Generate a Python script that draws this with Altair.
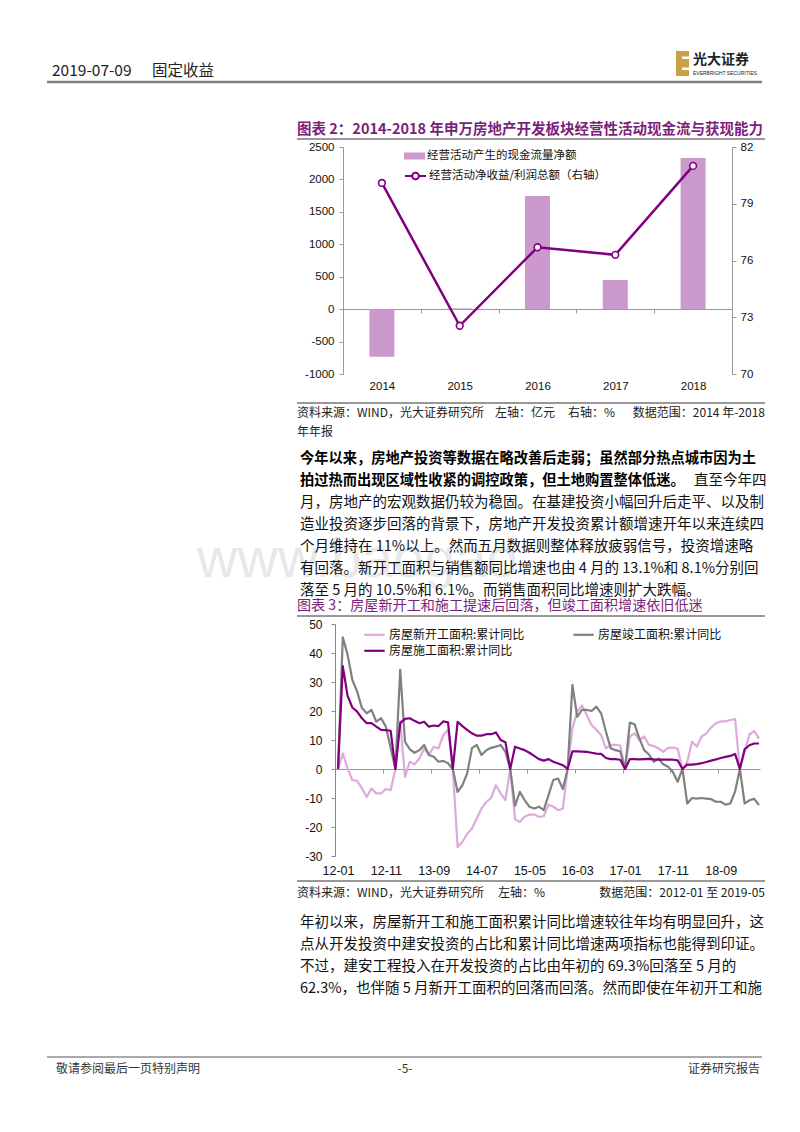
import altair as alt
import pandas as pd

# ---------------- 图表 2 数据 ----------------
years = ["2014", "2015", "2016", "2017", "2018"]
cash_flow = [-735, 12, 1745, 450, 2330]          # 亿元（左轴）
net_ratio = [80.1, 72.55, 76.7, 76.3, 81.0]      # %（右轴）
bar_name = "经营活动产生的现金流量净额"
line_name = "经营活动净收益/利润总额（右轴）"

# ---------------- 图表 3 数据（2012-01 至 2019-05，累计同比 %） ----------------
months = [f"{y % 100:02d}-{m:02d}" for y in range(2012, 2020) for m in range(1, 13)][:89]
s_new = "房屋新开工面积:累计同比"
s_done = "房屋竣工面积:累计同比"
s_cons = "房屋施工面积:累计同比"
new_start = [
    0, 5.4, 0.2, -3.8, -4.1, -6.7, -9.6, -6.7, -8.4, -8.4, -6.9, -7.3,
    0, 16.5, -2.7, 2.5, 1.6, 3.6, 7.1, 4.8, 7.7, 7.1, 11.7, 13.5,
    0, -26.9, -25.2, -22.3, -20.5, -17.1, -13.6, -11.3, -10.0, -5.6, -8.4, -10.7,
    0, -17.3, -18.3, -16.5, -15.7, -15.7, -16.5, -16.3, -12.3, -13.0, -14.2, -13.7,
    0, 14.0, 19.8, 21.9, 18.6, 15.2, 13.5, 11.7, 7.1, 8.3, 8.3, 8.1,
    0, 11.2, 12.3, 10.0, 11.2, 8.3, 7.9, 7.1, 5.9, 7.3, 7.4, 7.0,
    0, 2.5, 9.4, 7.7, 11.2, 12.3, 14.3, 15.8, 16.4, 16.4, 16.9, 17.2,
    0, 6.0, 11.9, 13.1, 10.5,
]
completed = [
    0, 45.4, 39.4, 30.7, 26.7, 21.0, 19.2, 20.4, 16.3, 17.5, 14.6, 7.3,
    0, 34.2, 9.4, 6.8, 5.6, 6.5, 8.3, 4.8, 4.2, 2.5, 2.8, 2.0,
    0, -7.9, -5.6, -1.5, 7.2, 8.3, 4.8, 6.5, 7.3, 7.7, 8.3, 5.9,
    0, -12.7, -7.9, -10.7, -13.0, -13.6, -13.0, -14.2, -9.0, -3.8, -3.3, -6.9,
    0, 29.0, 18.0, 20.4, 20.4, 20.0, 21.5, 19.2, 12.9, 7.2, 6.5, 6.1,
    0, 16.0, 15.4, 10.5, 6.5, 5.0, 2.5, 3.6, 1.6, 0.8, -1.0, -4.4,
    0, -11.9, -10.0, -10.2, -10.0, -10.2, -10.4, -11.3, -11.3, -12.3, -11.9, -7.8,
    0, -11.9, -10.8, -10.3, -12.4,
]
under_cons = [
    0, 35.5, 25.2, 21.2, 19.8, 17.5, 15.8, 15.8, 14.6, 13.5, 13.4, 13.2,
    0, 15.8, 17.3, 17.5, 16.6, 15.8, 16.3, 14.6, 15.0, 14.8, 16.4, 16.1,
    0, 16.3, 14.8, 13.5, 12.3, 11.5, 11.5, 12.0, 12.0, 12.6, 10.0, 9.2,
    0, 7.7, 7.1, 6.5, 5.6, 4.5, 3.4, 2.9, 3.4, 2.5, 1.9, 1.3,
    0, 6.1, 6.1, 6.0, 5.9, 5.6, 5.3, 5.2, 3.8, 3.4, 3.4, 3.2,
    0, 3.4, 3.4, 3.3, 3.4, 3.5, 3.3, 3.2, 3.2, 3.2, 3.2, 3.0,
    0, 1.5, 1.5, 1.7, 2.0, 2.4, 2.9, 3.3, 3.8, 4.2, 4.5, 5.2,
    0, 6.8, 8.2, 8.8, 8.8,
]

# ---------------- 页面文字 ----------------
header_date = "2019-07-09"
header_sec = "固定收益"
logo_cn = "光大证券"
logo_en = "EVERBRIGHT SECURITIES"
title2 = "图表 2：2014-2018 年申万房地产开发板块经营性活动现金流与获现能力"
src2 = ["资料来源：WIND，光大证券研究所", "左轴：亿元", "右轴：%", "数据范围：2014 年-2018", "年年报"]
para1_line1_bold = "今年以来，房地产投资等数据在略改善后走弱；虽然部分热点城市因为土"
para1_line2_bold = "拍过热而出现区域性收紧的调控政策，但土地购置整体低迷。"
para1_line2_rest = "直至今年四"
para1_rest = [
    "月，房地产的宏观数据仍较为稳固。在基建投资小幅回升后走平、以及制",
    "造业投资逐步回落的背景下，房地产开发投资累计额增速开年以来连续四",
    "个月维持在 11%以上。然而五月数据则整体释放疲弱信号，投资增速略",
    "有回落。新开工面积与销售额同比增速也由 4 月的 13.1%和 8.1%分别回",
    "落至 5 月的 10.5%和 6.1%。而销售面积同比增速则扩大跌幅。",
]
title3 = "图表 3：房屋新开工和施工提速后回落，但竣工面积增速依旧低迷"
src3 = ["资料来源：WIND，光大证券研究所", "左轴：%", "数据范围：2012-01 至 2019-05"]
para2 = [
    "年初以来，房屋新开工和施工面积累计同比增速较往年均有明显回升，这",
    "点从开发投资中建安投资的占比和累计同比增速两项指标也能得到印证。",
    "不过，建安工程投入在开发投资的占比由年初的 69.3%回落至 5 月的",
    "62.3%，也伴随 5 月新开工面积的回落而回落。然而即使在年初开工和施",
]
footer = ["敬请参阅最后一页特别声明", "-5-", "证券研究报告"]
watermark = "www.baogao"

# ---------------- styles ----------------
CJK = "Noto Sans CJK SC"
LAT = "Liberation Sans"
PURPLE = "#800080"
TITLE_C = "#7B1F7B"
BAR_C = "#CC99CC"
PINK = "#DDAADD"
GRAY = "#808080"
W = 784
PLAIN_NUM = "'' + datum.value"


def txt(s, x, y, size, color="#000", weight="normal", align="left", font=CJK):
    return alt.Chart(pd.DataFrame({"t": [s]})).mark_text(
        align=align, baseline="middle", font=font, fontSize=size,
        fontWeight=weight, color=color
    ).encode(text="t:N", x=alt.value(x), y=alt.value(y))


def hrule(x1, x2, y, color="#333", w=1.0):
    return alt.Chart(pd.DataFrame({"t": [0]})).mark_rule(
        color=color, strokeWidth=w
    ).encode(x=alt.value(x1), x2=alt.value(x2), y=alt.value(y))


def box(x1, x2, y1, y2, color):
    return alt.Chart(pd.DataFrame({"t": [0]})).mark_rect(color=color).encode(
        x=alt.value(x1), x2=alt.value(x2), y=alt.value(y1), y2=alt.value(y2))


# ---------------- Row A: header + title 2 (height 139) ----------------
rowA = alt.layer(
    txt(header_date, 44, 63, 15.5, "#222"),
    txt(header_sec, 144, 63, 15.5, "#222"),
    hrule(39, 754, 74, "#808080", 2.5),
    box(668, 681, 43, 68, "#C9A245"),
    box(674, 681, 48.5, 51, "#ffffff"),
    box(674, 681, 59.5, 62, "#ffffff"),
    txt(logo_cn, 685, 52, 14, "#222", "bold"),
    txt(logo_en, 685, 64.5, 5, "#222", font=LAT),
    txt(title2, 289, 122, 14.5, TITLE_C, "bold"),
    hrule(289, 757, 131, "#333", 1),
).properties(width=W, height=139)

# ---------------- Row B: chart 1, bars + line (plot x 335..724, height 227) ----------------
ROWB_TOP = 139
df1 = pd.DataFrame({"年份": years, "现金流": cash_flow, "比率": net_ratio,
                    "s1": [bar_name] * 5, "s2": [line_name] * 5})
x1 = alt.X("年份:N", sort=years,
           scale=alt.Scale(paddingInner=0, paddingOuter=0, range=[335, 724]),
           axis=alt.Axis(title=None, labelAngle=0, offset=-65, domainColor="#999",
                         tickColor="#999", tickBand="extent", tickSize=4, labelPadding=67,
                         labelFont=LAT, labelFontSize=11.5, labelColor="#111", grid=False))
bars = alt.Chart(df1).mark_bar(size=25).encode(
    x=x1,
    y=alt.Y("现金流:Q", scale=alt.Scale(domain=[-1000, 2500], nice=False),
            axis=alt.Axis(title=None, values=list(range(-1000, 2501, 500)), grid=False,
                          labelExpr=PLAIN_NUM, offset=-335, domainColor="#999",
                          tickColor="#999", tickSize=4, labelPadding=5, labelFont=LAT,
                          labelFontSize=11.5, labelColor="#111")),
    fill=alt.Fill("s1:N", scale=alt.Scale(domain=[bar_name], range=[BAR_C]),
                  legend=alt.Legend(title=None, orient="none", legendX=396,
                                    legendY=ROWB_TOP + 9 - 10.5,
                                    symbolType="M-1,-0.333H1V0.333H-1Z", symbolSize=441,
                                    symbolStrokeWidth=0, labelOffset=2, labelFont=CJK,
                                    labelFontSize=11.5, labelColor="#111", labelLimit=300,
                                    padding=0)),
)
line = alt.Chart(df1).mark_line(
    strokeWidth=2.5,
    point=alt.OverlayMarkDef(filled=True, fill="white", size=45, strokeWidth=1.6),
).encode(
    x=x1,
    y=alt.Y("比率:Q", scale=alt.Scale(domain=[70, 82], nice=False),
            axis=alt.Axis(title=None, orient="right", values=[70, 73, 76, 79, 82], grid=False,
                          labelExpr=PLAIN_NUM, domainColor="#999", tickColor="#999",
                          tickSize=4, labelPadding=4, labelFont=LAT, labelFontSize=11.5,
                          labelColor="#111")),
    stroke=alt.Stroke("s2:N", scale=alt.Scale(domain=[line_name], range=[PURPLE]),
                      legend=alt.Legend(title=None, orient="none", legendX=396,
                                        legendY=ROWB_TOP + 28 - 10.5,
                                        symbolType="M-1,0H-0.32M0.32,0H1M0.32,0A0.32,0.32,0,1,1,-0.32,0A0.32,0.32,0,1,1,0.32,0",
                                        symbolSize=441, symbolStrokeWidth=2,
                                        symbolFillColor="#ffffff", labelOffset=2,
                                        labelFont=CJK, labelFontSize=11.5, labelColor="#111",
                                        labelLimit=300, padding=0)),
)
rowB = alt.layer(bars, line).resolve_scale(y="independent").properties(width=724, height=227)

# ---------------- Row C: source, paragraph, title 3 (height 250) ----------------
P1 = 85
layersC = [
    txt(watermark, 189, 186, 56, "#e8e8e8", font=LAT),
    hrule(289, 757, 29, "#333", 1),
    txt(src2[0], 289, 39, 12, "#222"),
    txt(src2[1], 487, 39, 12, "#222"),
    txt(src2[2], 560, 39, 12, "#222"),
    txt(src2[3], 757, 39, 12, "#222", align="right"),
    txt(src2[4], 289, 58, 12, "#222"),
    txt(para1_line1_bold, 292, P1, 14.25, "#000", "bold"),
    txt(para1_line2_bold, 292, P1 + 22, 14.25, "#000", "bold"),
    txt(para1_line2_rest, 686, P1 + 22, 14.5, "#111"),
]
for k, s in enumerate(para1_rest):
    layersC.append(txt(s, 292, P1 + 44 + 22 * k, 14.5, "#111"))
layersC += [
    txt(title3, 289, 232, 14.1, TITLE_C),
    hrule(289, 757, 242, "#333", 1),
]
rowC = alt.layer(*layersC).properties(width=W, height=250)

# ---------------- Row D: chart 3, monthly lines (plot x 327..752, height 232) ----------------
ROWD_TOP = 139 + 227 + 250
n = len(months)
df2 = pd.DataFrame({
    "idx": list(range(n)) * 3,
    "月份": months * 3,
    "val": new_start + completed + under_cons,
    "系列": [s_new] * n + [s_done] * n + [s_cons] * n,
})
order = [s_new, s_done, s_cons]
legend_order = [s_new, s_cons, s_done]   # column-major fill -> row 1: 新开工, 竣工; row 2: 施工
xs2 = alt.Scale(domain=[-0.63, n - 1 + 0.21], nice=False, zero=False, range=[327, 752])
y2 = alt.Y("val:Q", scale=alt.Scale(domain=[-30, 50], nice=False),
           axis=alt.Axis(title=None, values=list(range(-30, 51, 10)), grid=False,
                         labelExpr=PLAIN_NUM, offset=-327, domainColor="#888",
                         tickColor="#888", tickSize=4, labelPadding=9, labelFont=LAT,
                         labelFontSize=12, labelColor="#111"))
tick_labels = [months[i] for i in range(0, n, 10)]
label_expr = "[" + ",".join(f"'{m}'" for m in tick_labels) + "][round(datum.value/10)]"
lines2 = alt.Chart(df2).mark_line(strokeJoin="round").encode(
    x=alt.X("idx:Q", scale=xs2,
            axis=alt.Axis(title=None, orient="bottom", offset=-87,
                          values=[9.5 + 10 * k for k in range(8)], labels=False,
                          domainColor="#999", tickColor="#999", tickSize=4, grid=False)),
    y=y2,
    color=alt.Color("系列:N", sort=order,
                    scale=alt.Scale(domain=order, range=[PINK, GRAY, PURPLE]),
                    legend=alt.Legend(title=None, orient="none", legendX=356.5,
                                      legendY=ROWD_TOP + 9.3 - 8.5, values=legend_order,
                                      columns=2, columnPadding=44, rowPadding=0,
                                      symbolType="M-1.2,0H1.2", symbolSize=289,
                                      symbolStrokeWidth=3, labelOffset=4.5, labelFont=CJK,
                                      labelFontSize=12, labelColor="#111", labelLimit=300,
                                      padding=0)),
    strokeWidth=alt.StrokeWidth("系列:N", sort=order,
                                scale=alt.Scale(domain=order, range=[2.2, 2.2, 2.8]),
                                legend=None),
)
axis_layer = alt.Chart(df2).mark_line(opacity=0).encode(
    x=alt.X("idx:Q", scale=xs2,
            axis=alt.Axis(title=None, orient="bottom", values=list(range(0, n, 10)),
                          labelExpr=label_expr, domain=False, ticks=False, tickSize=0,
                          labelPadding=8, labelFont=LAT, labelFontSize=12.5,
                          labelColor="#111", grid=False)),
    y=y2,
    detail="系列:N",
)
rowD = alt.layer(lines2, axis_layer).resolve_axis(x="independent").properties(width=752, height=232)

# ---------------- Row E: source, paragraph, footer (height 244) ----------------
layersE = [
    hrule(289, 757, 25, "#333", 1),
    txt(src3[0], 289, 37, 12, "#222"),
    txt(src3[1], 490, 37, 12, "#222"),
    txt(src3[2], 757, 37, 12, "#222", align="right"),
]
for k, s in enumerate(para2):
    layersE.append(txt(s, 292, 67 + 22 * k, 14.5, "#111"))
layersE += [
    hrule(39, 754, 201, "#555", 1),
    txt(footer[0], 48, 213, 12, "#333"),
    txt(footer[1], 397, 213, 12, "#333", align="center"),
    txt(footer[2], 752, 213, 12, "#333", align="right"),
]
rowE = alt.layer(*layersE).properties(width=W, height=244)

chart = alt.vconcat(rowA, rowB, rowC, rowD, rowE, spacing=0, bounds="flush").properties(
    padding=0
).configure_view(stroke=None)

chart.save("out.html", embed_options={"renderer": "svg", "actions": False})
